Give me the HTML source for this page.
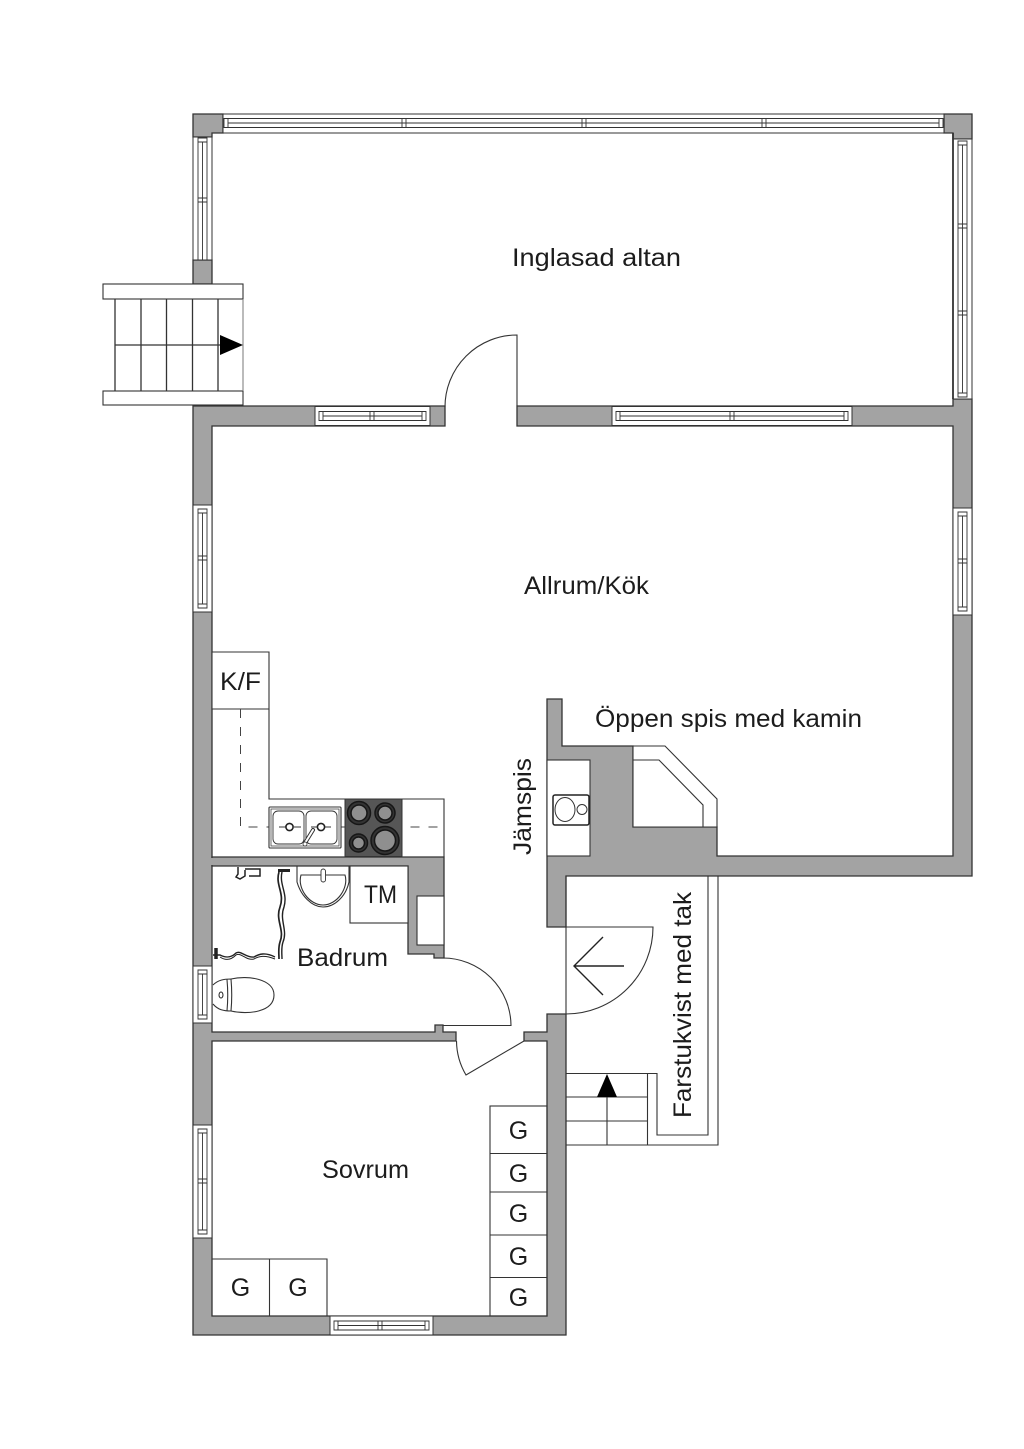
<!DOCTYPE html>
<html lang="sv">
<head>
<meta charset="utf-8">
<title>Planritning</title>
<style>
html,body{margin:0;padding:0;background:#fff;width:1024px;height:1449px;overflow:hidden}
svg{display:block}
text{font-family:"Liberation Sans",sans-serif;fill:#1c1c1c;font-size:25px}
.w{fill:#a3a3a3;stroke:#333;stroke-width:1.3;stroke-linejoin:miter}
.n{fill:#a3a3a3;stroke:none}
.l{fill:none;stroke:#333;stroke-width:1.1}
.f{fill:#fff;stroke:#333;stroke-width:1.1}
.win{fill:#fff;stroke:#333;stroke-width:1}
.inn{fill:none;stroke:#333;stroke-width:.9}
</style>
</head>
<body>
<svg width="1024" height="1449" viewBox="0 0 1024 1449" xmlns="http://www.w3.org/2000/svg">
<rect width="1024" height="1449" fill="#fff"/>

<!-- Altan walls -->
<path class="w" d="M193 114H223V133H212V137H193Z"/>
<path class="w" d="M944 114H972V139H953V133H944Z"/>
<rect class="w" x="193" y="260" width="19" height="24"/>

<!-- Main walls -->
<path class="w" d="M193 406H445V426H212V1032H435V1025H443V1032H456V1041H212V1316H547V1041H524V1032H547V1014H566V1335H193Z"/>
<path class="w" d="M517 406H953V399H972V876H566V927H547V699H562V746H633V827H717V856H953V426H517Z"/>
<path class="w" d="M212 857H444V958H434V954H408V866H212Z"/>
<rect class="n" x="208" y="858" width="6" height="7"/>
<rect class="f" x="547" y="760" width="43" height="96"/>
<rect class="f" x="417" y="896" width="27" height="49"/>

<!-- Horizontal windows -->
<g>
<rect class="win" x="223" y="114" width="721" height="19"/>
<path class="inn" d="M224 118.5H943V127.5H224ZM228 123H939M224 118.5V127.5M228 118.5V127.5M939 118.5V127.5M402 118.5V127.5M406 118.5V127.5M582 118.5V127.5M586 118.5V127.5M762 118.5V127.5M766 118.5V127.5"/>
<rect class="win" x="315" y="406.5" width="115" height="19"/>
<path class="inn" d="M319 411.5H426V420.5H319ZM323 416H422M323 411.5V420.5M422 411.5V420.5M370 411.5V420.5M374 411.5V420.5"/>
<rect class="win" x="612" y="406.5" width="240" height="19"/>
<path class="inn" d="M616 411.5H848V420.5H616ZM620 416H844M620 411.5V420.5M844 411.5V420.5M730 411.5V420.5M734 411.5V420.5"/>
<rect class="win" x="330" y="1316" width="103" height="19"/>
<path class="inn" d="M334 1321H429V1330H334ZM338 1325.5H425M338 1321V1330M425 1321V1330M378 1321V1330M382 1321V1330"/>
</g>

<!-- Vertical windows -->
<g>
<rect class="win" x="193" y="137" width="19" height="123"/>
<path class="inn" d="M198 138H207V260H198ZM202.5 142V260M198 142H207M198 198H207M198 202H207"/>
<rect class="win" x="193" y="505" width="19" height="107"/>
<path class="inn" d="M198 509H207V608H198ZM202.5 513V604M198 513H207M198 604H207M198 556H207M198 560H207"/>
<rect class="win" x="193" y="966" width="19" height="57"/>
<path class="inn" d="M198 970H207V1019H198ZM202.5 974V1015M198 974H207M198 1015H207"/>
<rect class="win" x="193" y="1125" width="19" height="113"/>
<path class="inn" d="M198 1129H207V1234H198ZM202.5 1133V1230M198 1133H207M198 1230H207M198 1179H207M198 1183H207"/>
<rect class="win" x="953" y="139" width="19" height="260"/>
<path class="inn" d="M958 141H967V397H958ZM962.5 145V393M958 145H967M958 393H967M958 224H967M958 228H967M958 311H967M958 315H967"/>
<rect class="win" x="953" y="508" width="19" height="107"/>
<path class="inn" d="M958 512H967V611H958ZM962.5 516V607M958 516H967M958 607H967M958 559H967M958 563H967"/>
<path d="M953 133V399" stroke="#333" stroke-width="1.8" fill="none"/>
</g>

<!-- Outer stairs -->
<rect class="f" x="103" y="284" width="140" height="15"/>
<rect class="f" x="103" y="391" width="140" height="14"/>
<path d="M115 299V391M141 299V391M166.500 299V391M192.500 299V391M218 299V391M115 345H220" fill="none" stroke="#333" stroke-width="1.300"/>
<path d="M243 299V391" fill="none" stroke="#777" stroke-width="1"/>
<path d="M220 335L243 345L220 355Z" fill="#000"/>

<!-- Altan door -->
<path class="l" d="M517 406V335A72 72 0 0 0 445 407"/>

<!-- Kitchen -->
<path class="f" d="M212 652H269V709H212Z"/>
<path class="l" d="M269 709V799H444V857"/>
<path d="M240.500 709V827H444" fill="none" stroke="#444" stroke-width="1" stroke-dasharray="9 9"/>
<rect x="269" y="807" width="72" height="41" rx="1" fill="#fff" stroke="#333" stroke-width="1.1"/>
<rect x="271" y="809" width="68" height="37" fill="none" stroke="#333" stroke-width=".7"/>
<rect x="273" y="811" width="31" height="33" rx="5" fill="#fff" stroke="#333" stroke-width=".9"/>
<rect x="306" y="811" width="31" height="33" rx="5" fill="#fff" stroke="#333" stroke-width=".9"/>
<path class="l" d="M279 827H286M294 827H301M311 827H317M325 827H331"/>
<circle cx="289.500" cy="827" r="3.600" fill="#fff" stroke="#222" stroke-width="1.600"/>
<circle cx="321" cy="827" r="3.600" fill="#fff" stroke="#222" stroke-width="1.600"/>
<path d="M305 843L313 830" stroke="#333" stroke-width="4" stroke-linecap="round"/>
<path d="M305 843L313 830" stroke="#fff" stroke-width="2" stroke-linecap="round"/>
<circle cx="305" cy="844" r="2" fill="#fff" stroke="#333" stroke-width=".8"/>
<rect x="345" y="799" width="57" height="57.500" fill="#565656" stroke="#333" stroke-width="1"/>
<g stroke="#161616" stroke-width="1.500">
<circle cx="359" cy="813" r="11.500" fill="#333"/><circle cx="359" cy="813" r="8" fill="#8f8f8f"/>
<circle cx="385" cy="813" r="10" fill="#333"/><circle cx="385" cy="813" r="7" fill="#8f8f8f"/>
<circle cx="358.500" cy="843" r="9" fill="#333"/><circle cx="358.500" cy="843" r="6" fill="#8f8f8f"/>
<circle cx="385" cy="840.500" r="14" fill="#333"/><circle cx="385" cy="840.500" r="10.500" fill="#8f8f8f"/>
</g>

<!-- Bathroom -->
<rect class="f" x="350" y="866" width="58" height="57"/>
<path class="l" d="M297 866V882C301 896 312 907 323 907C335 907 346 896 349 882V866"/>
<path class="l" d="M301 875H345C349 888 337 905 323 905C309 905 297 888 301 875Z"/>
<rect x="321" y="869" width="4.500" height="13" rx="2.200" fill="#fff" stroke="#333" stroke-width=".9"/>
<path d="M279 872C275 885 285 893 280 907C275 920 285 930 280 942C278 948 279 954 279 959" fill="none" stroke="#222" stroke-width="1.700"/>
<path d="M282 872C279 885 288 893 284 907C279 920 288 930 283 942C281 948 282 954 282 959" fill="none" stroke="#222" stroke-width="1.400"/>
<path d="M278 870.500H290" stroke="#222" stroke-width="3"/>
<path d="M216 948V959" stroke="#222" stroke-width="3.500"/>
<path d="M213 955H220C226 958 231 958 236 953C241 950 246 958 254 957C259 954 265 952 275 957" fill="none" stroke="#222" stroke-width="1.400"/>
<path d="M220 957C226 961 231 960 236 955C241 952 246 961 254 959C259 956 265 955 275 959" fill="none" stroke="#222" stroke-width="1"/>
<path d="M238 867V874L236 877L240 879L245 876L245 870M245 869H260V876H249" fill="none" stroke="#222" stroke-width="1.500"/>
<path class="l" d="M231 979C248 975 274 979 274 995C274 1012 248 1015 231 1011"/>
<path class="l" d="M213 985C218 980 224 979 231 979C232 990 232 1000 231 1011C224 1011 218 1010 213 1004"/>
<path class="l" d="M227 979.500C228 990 228 1000 227 1011"/>
<ellipse cx="221" cy="995" rx="2" ry="3" fill="none" stroke="#222" stroke-width="1"/>

<!-- Bathroom door -->
<path class="l" d="M443 958A68 68 0 0 1 511 1025.500H443"/>

<!-- Bedroom door -->
<path class="l" d="M524 1041L466 1075A68 68 0 0 1 456.500 1041"/>

<!-- Fireplace -->
<path class="f" d="M633 746H665L717 799V827H633Z"/>
<path class="l" d="M633 760H659L703 805V827"/>

<!-- Range -->
<rect x="553" y="795" width="36" height="30" rx="2" fill="#fff" stroke="#222" stroke-width="1.500"/>
<ellipse cx="565" cy="809.500" rx="10" ry="12" fill="none" stroke="#333" stroke-width="1"/>
<circle cx="582" cy="809.500" r="5" fill="none" stroke="#333" stroke-width="1"/>

<!-- Entrance -->
<path class="l" d="M566 876V1014M547 927H653A87 87 0 0 1 566 1014"/>
<path d="M603 937L574 966L603 995M574 966H624" fill="none" stroke="#222" stroke-width="1.400"/>
<path class="l" d="M708 876V1135H657V1073.500H566M718 876V1145H566M647.500 1073.500V1145M566 1097H647.500M566 1121H647.500M607 1097V1145"/>
<path d="M597 1097L607 1074L617 1097Z" fill="#000"/>

<!-- Wardrobes -->
<rect class="l" x="490" y="1106" width="57" height="210"/>
<path class="l" d="M490 1153.500H547M490 1192H547M490 1235H547M490 1277.500H547"/>
<path class="l" d="M212 1259H327V1316M269.500 1259V1316"/>

<!-- Labels -->
<text x="512" y="266" textLength="169" lengthAdjust="spacingAndGlyphs">Inglasad altan</text>
<text x="524" y="594" textLength="125" lengthAdjust="spacingAndGlyphs">Allrum/Kök</text>
<text x="595" y="727" textLength="267" lengthAdjust="spacingAndGlyphs">Öppen spis med kamin</text>
<text x="220" y="690" textLength="41" lengthAdjust="spacingAndGlyphs">K/F</text>
<text x="364" y="903" textLength="33" lengthAdjust="spacingAndGlyphs">TM</text>
<text x="297" y="966" textLength="91" lengthAdjust="spacingAndGlyphs">Badrum</text>
<text x="322" y="1178" textLength="87" lengthAdjust="spacingAndGlyphs">Sovrum</text>
<text transform="translate(531 855) rotate(-90)" textLength="97" lengthAdjust="spacingAndGlyphs">Jämspis</text>
<text transform="translate(691 1118) rotate(-90)" textLength="226" lengthAdjust="spacingAndGlyphs">Farstukvist med tak</text>
<g text-anchor="middle">
<text x="518.500" y="1139">G</text>
<text x="518.500" y="1182">G</text>
<text x="518.500" y="1222">G</text>
<text x="518.500" y="1265">G</text>
<text x="518.500" y="1306">G</text>
<text x="240.500" y="1296">G</text>
<text x="298" y="1296">G</text>
</g>
</svg>
</body>
</html>
